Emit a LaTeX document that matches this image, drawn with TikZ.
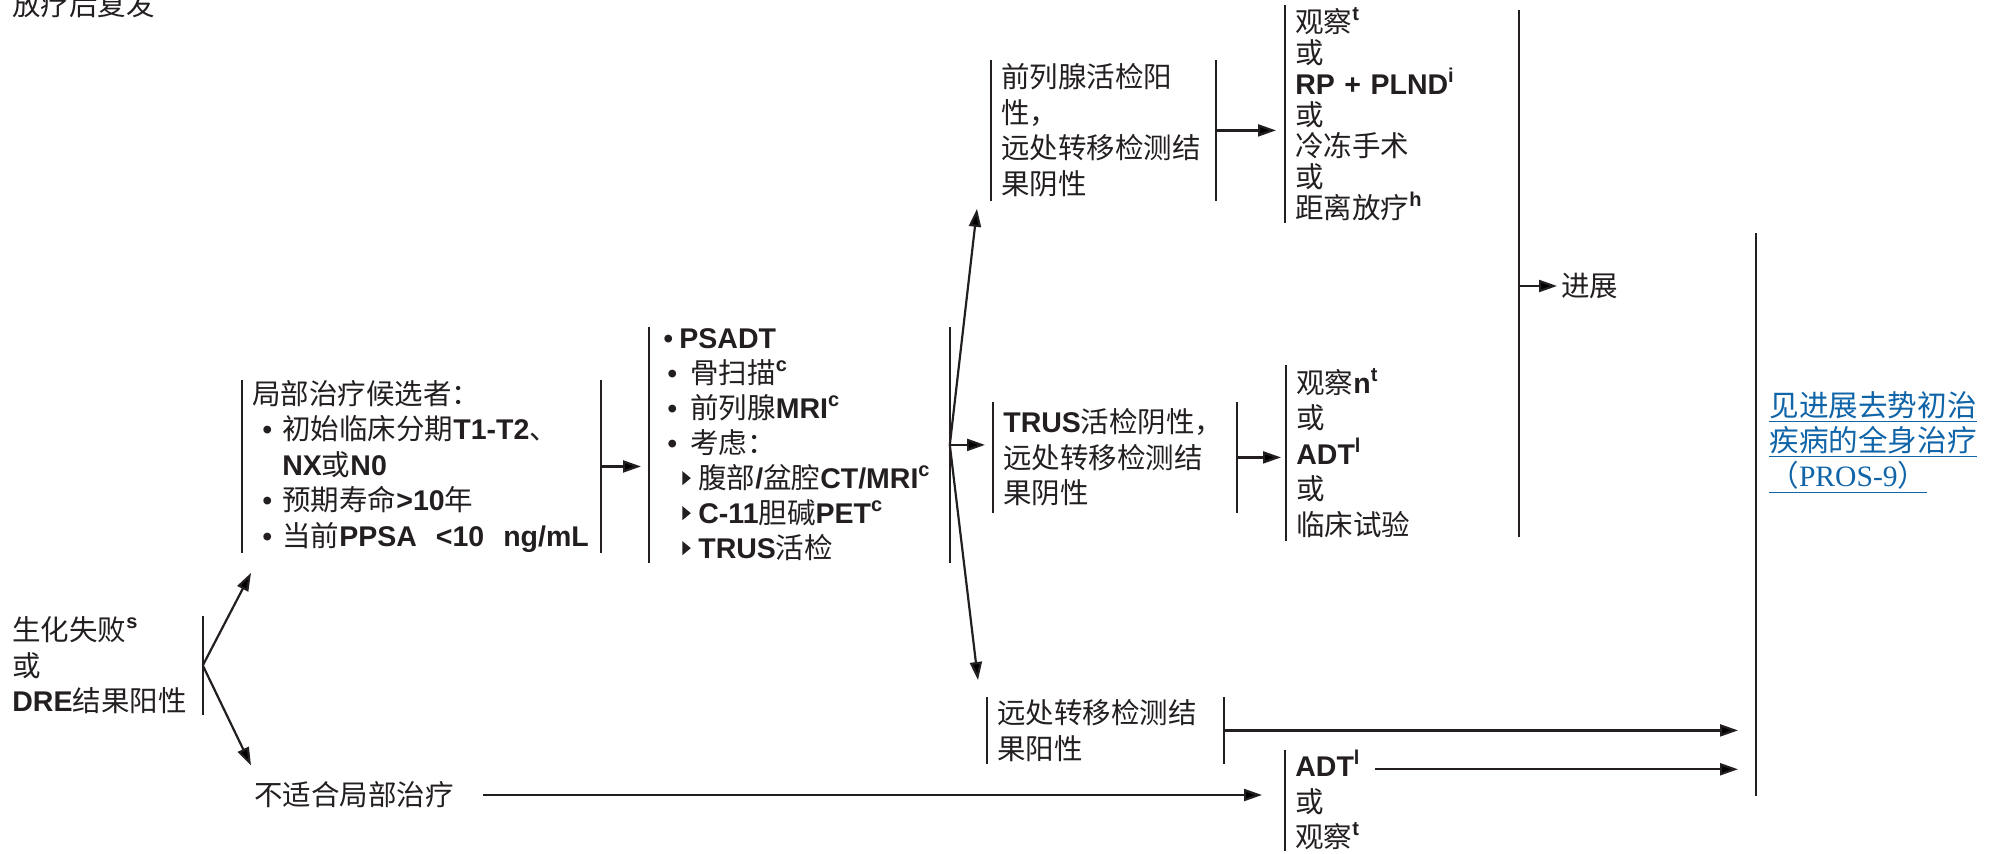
\documentclass[tikz,border=0pt]{standalone}
\usepackage{fontspec}
\setmainfont{Noto Sans CJK SC}
\newfontfamily\latf{Liberation Sans}
\newfontfamily\serf{Liberation Serif}
\usetikzlibrary{arrows.meta,calc}
\definecolor{ink}{RGB}{35,31,32}
\definecolor{linkblue}{RGB}{16,100,168}
\newcommand{\lb}[1]{{\latf\bfseries #1}}
\newcommand{\lsup}[1]{\raisebox{0.42em}{\fontsize{10}{10}\selectfont\latf\bfseries #1}}
\newcommand{\tri}{\tikz[baseline=0pt,x=1pt,y=1pt]\fill[ink] (0,1.8) -- (4.2,5.3) -- (0,8.8) -- cycle;}
\tikzset{
    vbar/.style     = {line width=1.3pt, draw=ink},
    flow/.style     = {-{Triangle[length=9pt,width=6pt]}, line width=1.1pt, draw=ink},
    boxtxt/.style   = {anchor=north west, align=left, text=ink, inner xsep=5pt, inner ysep=0pt,
                       font=\fontsize{14.25}{17.75}\selectfont},
    plaintxt/.style = {text=ink, inner sep=0pt, font=\fontsize{14.25}{17.75}\selectfont}
}
\begin{document}
\begin{tikzpicture}[x=0.5pt, y=-0.5pt]
    \useasboundingbox (0,0) rectangle (1997,853);
    \node[plaintxt, anchor=base west] (title) at (12,15) {放疗后复发};
    \node[boxtxt, text width=90pt, minimum height=49pt] (S) at (2,616)
        {生化失败\lsup{s}\\或\\\lb{DRE}结果阳性};
    \node[boxtxt, text width=169pt, minimum height=85pt] (A) at (242,380) {
        局部治疗候选者：\\
        \hspace*{5pt}\makebox[10pt][l]{\latf •}初始临床分期\lb{T1-T2}、\\
        \hspace*{15pt}\lb{NX}或\lb{N0}\\
        \hspace*{5pt}\makebox[10pt][l]{\latf •}预期寿命\lb{>10}年\\
        \hspace*{5pt}\makebox[10pt][l]{\latf •}当前\lb{PPSA~~<10~~ng/mL}};
    \node[boxtxt, inner xsep=7pt, text width=136pt, minimum height=117.5pt,
          font=\fontsize{14.25}{17.5}\selectfont] (B) at (649,327) {
        \makebox[8pt][l]{\latf •}\lb{PSADT}\\
        \hspace*{2pt}\makebox[11.5pt][l]{\latf •}骨扫描\lsup{c}\\
        \hspace*{2pt}\makebox[11.5pt][l]{\latf •}前列腺\lb{MRI}\lsup{c}\\
        \hspace*{2pt}\makebox[11.5pt][l]{\latf •}考虑：\\
        \hspace*{9.5pt}\makebox[8pt][l]{\tri}腹部\lb{/}盆腔\lb{CT/MRI}\lsup{c}\\
        \hspace*{9.5pt}\makebox[8pt][l]{\tri}\lb{C-11}胆碱\lb{PET}\lsup{c}\\
        \hspace*{9.5pt}\makebox[8pt][l]{\tri}\lb{TRUS}活检};
    \node[boxtxt, text width=102pt, minimum height=70pt] (C1) at (991,60)
        {前列腺活检阳\\性，\\远处转移检测结\\果阴性};
    \node[boxtxt, text width=111.5pt, minimum height=55pt] (C2) at (993,402)
        {\lb{TRUS}活检阴性，\\远处转移检测结\\果阴性};
    \node[boxtxt, text width=108pt, minimum height=33pt] (C3) at (987,697)
        {远处转移检测结\\果阳性};
    \node[boxtxt, text width=100pt, minimum height=108.5pt,
          font=\fontsize{14.25}{15.5}\selectfont] (D1) at (1285,5)
        {观察\lsup{t}\\或\\\lb{RP~+~PLND}\lsup{i}\\或\\冷冻手术\\或\\距离放疗\lsup{h}};
    \node[boxtxt, text width=100pt, minimum height=87.5pt] (D2) at (1286,365)
        {观察\lb{n}\lsup{t}\\或\\\lb{ADT}\lsup{l}\\或\\临床试验};
    \node[boxtxt, text width=100pt, minimum height=48.5pt] (D3) at (1285,750)
        {\lb{ADT}\lsup{l}\\或\\观察\lsup{t}};
    \node[plaintxt, anchor=west] (N) at (254,795) {不适合局部治疗};
    \node[plaintxt, anchor=west] (P) at (1561,286) {进展};
    \node[plaintxt, anchor=north west, align=left, text=linkblue,
          font=\fontsize{14.8}{17.5}\selectfont] (L) at (1769,391)
        {\underline{见进展去势初治}\\\underline{疾病的全身治疗}\\\underline{（{\serf PROS-9}）}};
    \coordinate (prgTop) at (1519,10);
    \coordinate (prgBot) at (1519,537);
    \coordinate (finTop) at (1756,233);
    \coordinate (finBot) at (1756,796);
    \foreach \n in {A,B,C1,C2,C3,D1,D2,D3} \draw[vbar] (\n.north west) -- (\n.south west);
    \foreach \n in {S,A,B,C1,C2,C3} \draw[vbar] (\n.north east) -- (\n.south east);
    \draw[vbar] (prgTop) -- (prgBot);
    \draw[vbar] (finTop) -- (finBot);
    \draw[flow] (S.east) -- ([shift={(9,20)}]A.south west);
    \draw[flow] (S.east) -- ([shift={(-3,-16)}]N.north west);
    \draw[flow] (A.east) -- ([xshift=-4pt]A.east -| B.west);
    \draw[flow] (B.east) -- ([shift={(-14,8)}]C1.south west);
    \draw[flow] (B.east) -- ([xshift=-4pt]B.east -| C2.west);
    \draw[flow] (B.east) -- ([shift={(-9,-17)}]C3.north west);
    \draw[flow] (C1.east) -- ([xshift=-4.5pt]C1.east -| D1.west);
    \draw[flow] (C2.east) -- ([xshift=-2.5pt]C2.east -| D2.west);
    \draw[flow] (P.west -| prgTop) -- ([xshift=-2pt]P.west);
    \draw[flow] (C3.east) -- ([xshift=-9pt]C3.east -| finTop);
    \coordinate (adt) at ([shift={(90,-31)}]D3.west);
    \draw[flow] (adt) -- ([xshift=-9pt]adt -| finTop);
    \draw[flow] ([xshift=14.5pt]N.east) -- ([xshift=-11.5pt]N.east -| D3.west);
\end{tikzpicture}
\end{document}
